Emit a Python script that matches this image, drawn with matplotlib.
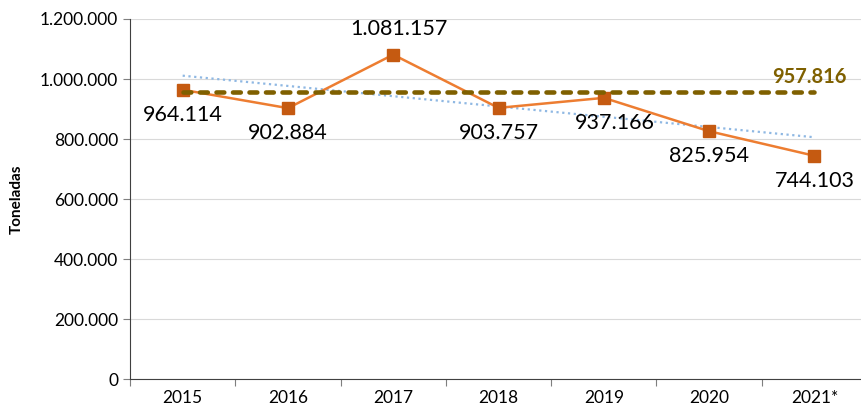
import numpy as np
import matplotlib.pyplot as plt
from matplotlib.ticker import FuncFormatter

plt.rcParams['font.family'] = ['Lato', 'DejaVu Sans']

# datos
years = ['2015', '2016', '2017', '2018', '2019', '2020', '2021*']
tons = [964114, 902884, 1081157, 903757, 937166, 825954, 744103]
promedio = 957816

def miles(v, pos=None):
    return f'{int(round(v)):,}'.replace(',', '.')

fig = plt.figure(figsize=(8.61, 4.13), dpi=100)
ax = fig.add_axes([0.151, 0.0823, 0.856, 0.8717])

x = np.arange(len(years))

# linea de tendencia (regresion lineal)
m, b = np.polyfit(x, tons, 1)
ax.plot(x, m * x + b, color='#8FB8E3', lw=1.6, linestyle=(0, (1, 1.6)), zorder=2)

# promedio
ax.plot([x[0], x[-1]], [promedio, promedio], color='#7F6000', lw=3.3,
        dashes=(1.7, 1.9), dash_capstyle='round', zorder=4)
ax.annotate(miles(promedio), xy=(x[-1], promedio), xytext=(x[-1] - 0.05, promedio + 48000),
            ha='center', va='center', fontsize=14.5, fontweight='bold', color='#7F6000',
            arrowprops=dict(arrowstyle='-', color='#A6A6A6', lw=0.7, shrinkA=7, shrinkB=1))

# serie principal
ax.plot(x, tons, color='#ED7D31', lw=1.8, marker='s', markersize=8,
        markerfacecolor='#C55A11', markeredgecolor='#C55A11', zorder=3)

# etiquetas de datos
for i, v in enumerate(tons):
    if i == 2:
        ax.annotate(miles(v), (i, v), xytext=(4, 11), textcoords='offset points',
                    ha='center', va='bottom', fontsize=15.5)
    elif i == 4:
        ax.annotate(miles(v), (i, v), xytext=(8, -11), textcoords='offset points',
                    ha='center', va='top', fontsize=15.5)
    else:
        ax.annotate(miles(v), (i, v), xytext=(0, -11), textcoords='offset points',
                    ha='center', va='top', fontsize=15.5)

ax.set_ylim(0, 1200000)
ax.set_yticks(np.arange(0, 1200001, 200000))
ax.yaxis.set_major_formatter(FuncFormatter(miles))
ax.set_xlim(-0.5, len(years) - 0.5)
ax.set_xticks(np.arange(-0.5, len(years), 1))
ax.set_xticklabels([])
ax.set_xticks(x, minor=True)
ax.set_xticklabels(years, minor=True)
ax.tick_params(axis='x', which='major', length=5, color='#7F7F7F')
ax.tick_params(axis='x', which='minor', length=0, pad=8, labelsize=12.5)
ax.tick_params(axis='y', length=5, color='#7F7F7F', labelsize=12.5)

ax.grid(axis='y', color='#D9D9D9', lw=0.8)
ax.set_axisbelow(True)
for s in ['top', 'right']:
    ax.spines[s].set_visible(False)
ax.spines['left'].set_color('#404040')
ax.spines['bottom'].set_color('#404040')

ax.set_ylabel('Toneladas', fontsize=11, fontweight='bold', labelpad=12)

fig.savefig('out.png', dpi=100)
